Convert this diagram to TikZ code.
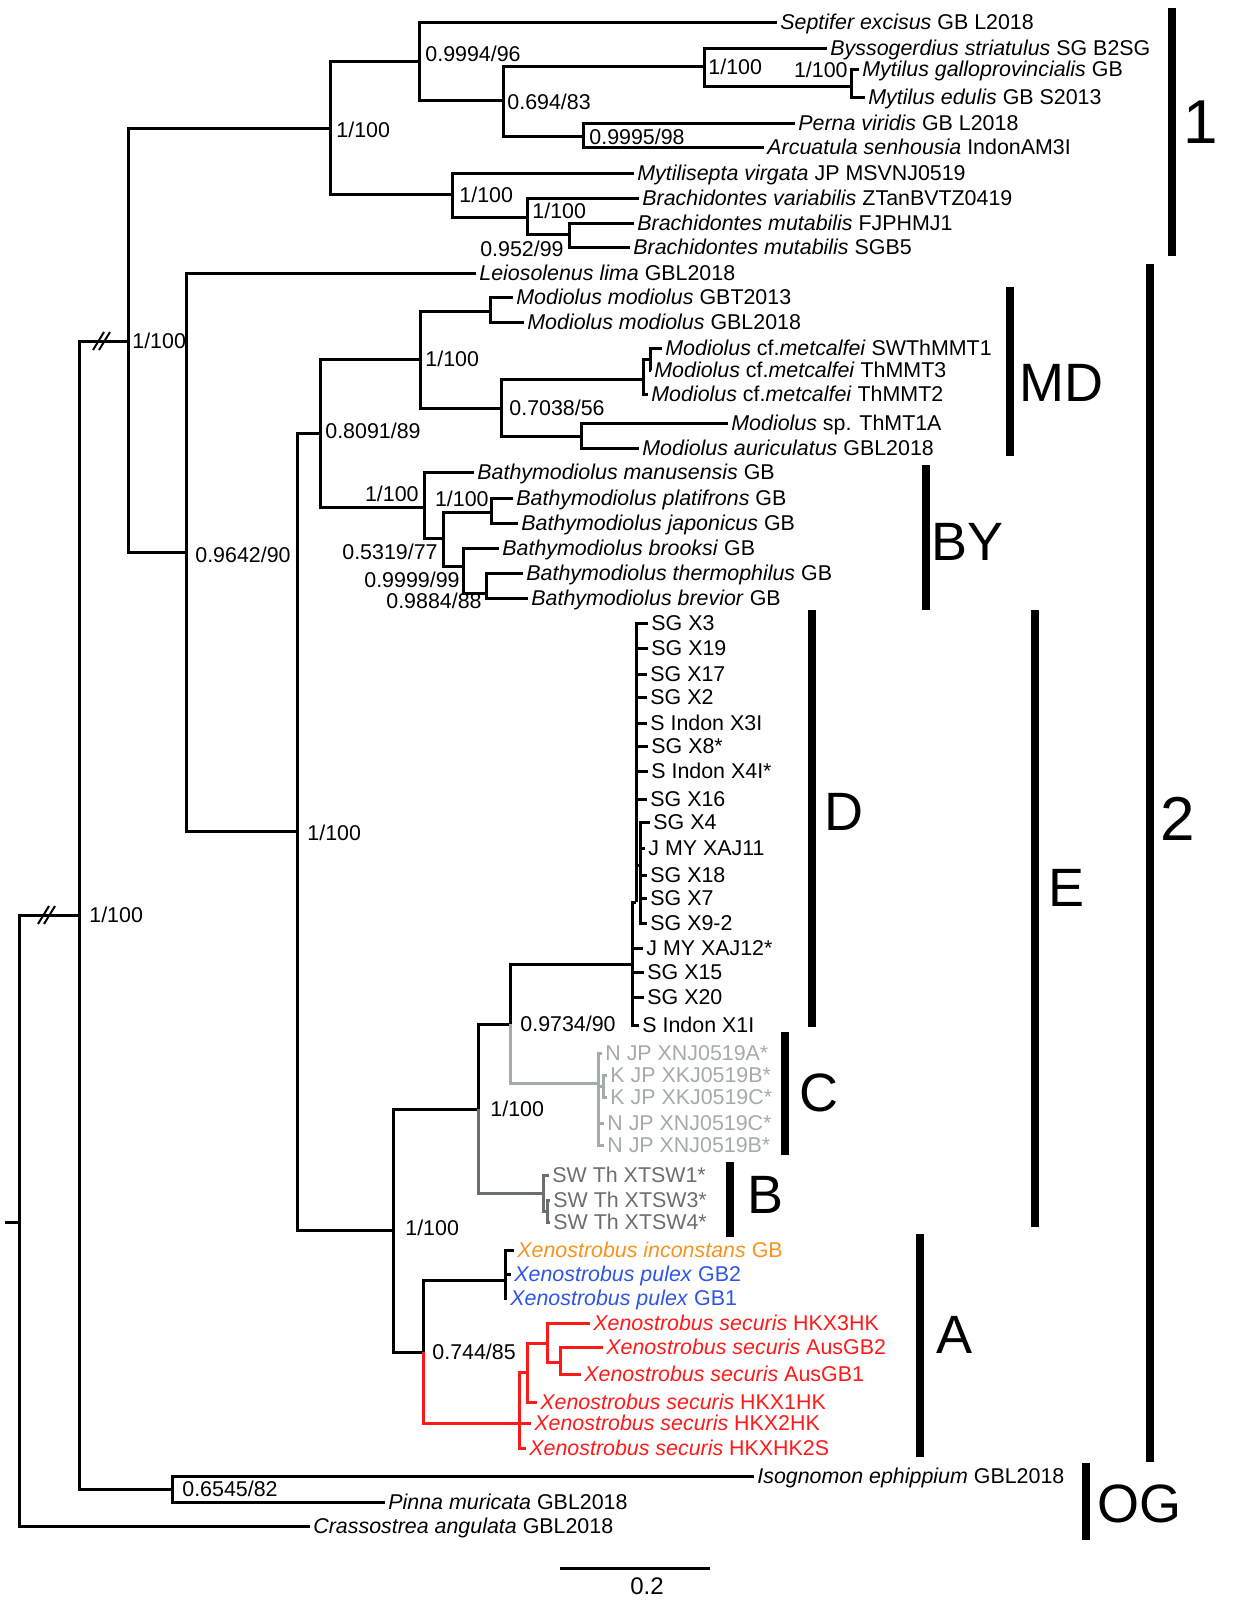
\documentclass[tikz,border=0pt]{standalone}
\usepackage{fontspec}
\setmainfont{Liberation Sans}
\usepackage{xcolor}
\usetikzlibrary{positioning}
\definecolor{naranja}{HTML}{F7931E}
\definecolor{azul}{HTML}{2F55E6}
\definecolor{rojo}{HTML}{FF1A1A}
\definecolor{grisc}{HTML}{A3ABAB}
\definecolor{grisb}{HTML}{6A6E6E}

\begin{document}
\begin{tikzpicture}[
  x=0.5pt, y=-0.5pt,
  font=\fontsize{10.7}{12}\selectfont,
  rama/.style={line width=1.5pt},
  hoja/.style={anchor=west, inner xsep=1.5pt, inner ysep=0pt, text height=7.7pt, text depth=0pt},
  apoyo/.style={anchor=west, inner sep=0pt, text height=7.7pt, text depth=0pt},
  apoyoizq/.style={apoyo, anchor=east},
  barra/.style={line width=3.6pt},
  clado/.style={anchor=west, inner sep=0pt, font=\fontsize{27}{30}\selectfont, text height=19.4pt, text depth=0pt},
  cladog/.style={clado, font=\fontsize{31}{34}\selectfont, text height=22.3pt},
  corte/.style={line width=1pt}
]
  \useasboundingbox (0,0) rectangle (1234,1603);

  % nodos internos
  \coordinate (base) at (5,1222);
  \coordinate (r0) at (19,1222);
  \coordinate (r1) at (79,915);
  \coordinate (g0) at (128,341);
  \coordinate (g1) at (330,128);
  \coordinate (g2) at (419,61);
  \coordinate (g3) at (503,100);
  \coordinate (g4) at (704,66);
  \coordinate (g5) at (851,86);
  \coordinate (g6) at (583,136);
  \coordinate (g7) at (452,194);
  \coordinate (g8) at (527,217);
  \coordinate (g9) at (569,234);
  \coordinate (m0) at (186,552);
  \coordinate (m1) at (297,831);
  \coordinate (m2) at (320,433);
  \coordinate (md0) at (420,359);
  \coordinate (md1) at (490,311);
  \coordinate (md2) at (501,408);
  \coordinate (md3) at (643,379);
  \coordinate (md4) at (650,359);
  \coordinate (md5) at (581,436);
  \coordinate (by0) at (424,507);
  \coordinate (by1) at (443,538);
  \coordinate (by2) at (491,512);
  \coordinate (by3) at (463,566);
  \coordinate (by4) at (486,593);
  \coordinate (x0) at (393,1230);
  \coordinate (x1) at (478,1109);
  \coordinate (x2) at (510,1024);
  \coordinate (d0) at (632,964);
  \coordinate (d1) at (636,902);
  \coordinate (d2) at (640,865);
  \coordinate (c0) at (598,1083);
  \coordinate (c1) at (603,1086);
  \coordinate (b0) at (543,1193);
  \coordinate (b1) at (547,1211);
  \coordinate (a0) at (423,1352);
  \coordinate (a1) at (505,1280);
  \coordinate (a2) at (519,1423);
  \coordinate (a3) at (527,1372);
  \coordinate (a4) at (547,1343);
  \coordinate (a5) at (560,1362);
  \coordinate (og) at (172,1489);

  % hojas
  \node[hoja] (sept) at (777,22) {\textit{Septifer excisus} GB L2018};
  \node[hoja] (byss) at (827,48) {\textit{Byssogerdius striatulus} SG B2SG};
  \node[hoja] (mgal) at (859,69) {\textit{Mytilus galloprovincialis} GB};
  \node[hoja] (medu) at (865,97) {\textit{Mytilus edulis} GB S2013};
  \node[hoja] (pvir) at (795,123) {\textit{Perna viridis} GB L2018};
  \node[hoja] (asen) at (764,147) {\textit{Arcuatula senhousia} IndonAM3I};
  \node[hoja] (mvir) at (634,173) {\textit{Mytilisepta virgata} JP MSVNJ0519};
  \node[hoja] (bvar) at (639,198) {\textit{Brachidontes variabilis} ZTanBVTZ0419};
  \node[hoja] (bmu1) at (634,223) {\textit{Brachidontes mutabilis} FJPHMJ1};
  \node[hoja] (bmu2) at (630,247) {\textit{Brachidontes mutabilis} SGB5};
  \node[hoja] (llim) at (476,273) {\textit{Leiosolenus lima} GBL2018};
  \node[hoja] (mmo1) at (513,297) {\textit{Modiolus modiolus} GBT2013};
  \node[hoja] (mmo2) at (524,322) {\textit{Modiolus modiolus} GBL2018};
  \node[hoja] (mme1) at (662,348) {\textit{Modiolus} cf.\textit{metcalfei} SWThMMT1};
  \node[hoja] (mme3) at (651,370) {\textit{Modiolus} cf.\textit{metcalfei} ThMMT3};
  \node[hoja] (mme2) at (648,394) {\textit{Modiolus} cf.\textit{metcalfei} ThMMT2};
  \node[hoja] (msp) at (728,423) {\textit{Modiolus} sp. ThMT1A};
  \node[hoja] (maur) at (639,448) {\textit{Modiolus auriculatus} GBL2018};
  \node[hoja] (bman) at (474,472) {\textit{Bathymodiolus manusensis} GB};
  \node[hoja] (bpla) at (513,498) {\textit{Bathymodiolus platifrons} GB};
  \node[hoja] (bjap) at (518,523) {\textit{Bathymodiolus japonicus} GB};
  \node[hoja] (bbro) at (499,548) {\textit{Bathymodiolus brooksi} GB};
  \node[hoja] (bthe) at (523,573) {\textit{Bathymodiolus thermophilus} GB};
  \node[hoja] (bbre) at (528,598) {\textit{Bathymodiolus brevior} GB};

  \node[hoja] (sgx3) at (648,623) {SG X3};
  \node[hoja] (sgx19) at (648,648) {SG X19};
  \node[hoja] (sgx17) at (647,674) {SG X17};
  \node[hoja] (sgx2) at (647,697) {SG X2};
  \node[hoja] (six3) at (647,723) {S Indon X3I};
  \node[hoja] (sgx8) at (648,746) {SG X8*};
  \node[hoja] (six4) at (648,771) {S Indon X4I*};
  \node[hoja] (sgx16) at (647,799) {SG X16};
  \node[hoja] (sgx4) at (650,822) {SG X4};
  \node[hoja] (jm11) at (645,848) {J MY XAJ11};
  \node[hoja] (sgx18) at (647,875) {SG X18};
  \node[hoja] (sgx7) at (647,898) {SG X7};
  \node[hoja] (sgx92) at (647,923) {SG X9-2};
  \node[hoja] (jm12) at (643,948) {J MY XAJ12*};
  \node[hoja] (sgx15) at (644,972) {SG X15};
  \node[hoja] (sgx20) at (644,997) {SG X20};
  \node[hoja] (six1) at (639,1025) {S Indon X1I};

  \node[hoja, grisc] (nja) at (602,1053) {N JP XNJ0519A*};
  \node[hoja, grisc] (kjb) at (607,1075) {K JP XKJ0519B*};
  \node[hoja, grisc] (kjc) at (607,1097) {K JP XKJ0519C*};
  \node[hoja, grisc] (njc) at (604,1123) {N JP XNJ0519C*};
  \node[hoja, grisc] (njb) at (604,1145) {N JP XNJ0519B*};

  \node[hoja, grisb] (sw1) at (549,1175) {SW Th XTSW1*};
  \node[hoja, grisb] (sw3) at (550,1200) {SW Th XTSW3*};
  \node[hoja, grisb] (sw4) at (550,1222) {SW Th XTSW4*};

  \node[hoja, naranja] (xinc) at (514,1250) {\textit{Xenostrobus inconstans} GB};
  \node[hoja, azul] (xpu2) at (511,1274) {\textit{Xenostrobus pulex} GB2};
  \node[hoja, azul] (xpu1) at (507,1298) {\textit{Xenostrobus pulex} GB1};
  \node[hoja, rojo] (hk3) at (590,1323) {\textit{Xenostrobus securis} HKX3HK};
  \node[hoja, rojo] (aus2) at (603,1347) {\textit{Xenostrobus securis} AusGB2};
  \node[hoja, rojo] (aus1) at (581,1374) {\textit{Xenostrobus securis} AusGB1};
  \node[hoja, rojo] (hk1) at (537,1402) {\textit{Xenostrobus securis} HKX1HK};
  \node[hoja, rojo] (hk2) at (531,1423) {\textit{Xenostrobus securis} HKX2HK};
  \node[hoja, rojo] (hks) at (526,1448) {\textit{Xenostrobus securis} HKXHK2S};

  \node[hoja] (ieph) at (754,1476) {\textit{Isognomon ephippium} GBL2018};
  \node[hoja] (pmur) at (385,1502) {\textit{Pinna muricata} GBL2018};
  \node[hoja] (cang) at (310,1526) {\textit{Crassostrea angulata} GBL2018};

  % ramas
  \draw[rama] (base) -- (r0);
  \draw[rama] (r0) |- (r1) (r0) |- (cang);
  \draw[rama] (r1) |- (g0) (r1) |- (og);
  \draw[rama] (og) |- (ieph) (og) |- (pmur);
  \draw[rama] (g0) |- (g1) (g0) |- (m0);
  \draw[rama] (g1) |- (g2) (g1) |- (g7);
  \draw[rama] (g2) |- (sept) (g2) |- (g3);
  \draw[rama] (g3) |- (g4) (g3) |- (g6);
  \draw[rama] (g4) |- (byss) (g4) |- (g5);
  \draw[rama] (g5) |- (mgal) (g5) |- (medu);
  \draw[rama] (g6) |- (pvir) (g6) |- (asen);
  \draw[rama] (g7) |- (mvir) (g7) |- (g8);
  \draw[rama] (g8) |- (bvar) (g8) |- (g9);
  \draw[rama] (g9) |- (bmu1) (g9) |- (bmu2);
  \draw[rama] (m0) |- (llim) (m0) |- (m1);
  \draw[rama] (m1) |- (m2) (m1) |- (x0);
  \draw[rama] (m2) |- (md0) (m2) |- (by0);
  \draw[rama] (md0) |- (md1) (md0) |- (md2);
  \draw[rama] (md1) |- (mmo1) (md1) |- (mmo2);
  \draw[rama] (md2) |- (md3) (md2) |- (md5);
  \draw[rama] (md3) |- (md4) (md3) |- (mme2);
  \draw[rama] (md4) |- (mme1) (md4) |- (mme3);
  \draw[rama] (md5) |- (msp) (md5) |- (maur);
  \draw[rama] (by0) |- (bman) (by0) |- (by1);
  \draw[rama] (by1) |- (by2) (by1) |- (by3);
  \draw[rama] (by2) |- (bpla) (by2) |- (bjap);
  \draw[rama] (by3) |- (bbro) (by3) |- (by4);
  \draw[rama] (by4) |- (bthe) (by4) |- (bbre);
  \draw[rama] (x0) |- (x1) (x0) |- (a0);
  \draw[rama] (x1) |- (x2);
  \draw[rama, grisb] (x1) |- (b0);
  \draw[rama] (x2) |- (d0);
  \draw[rama, grisc] (x2) |- (c0);
  \draw[rama] (d0) |- (d1) (d0) |- (jm12) (d0) |- (sgx15) (d0) |- (sgx20) (d0) |- (six1);
  \draw[rama] (d1) |- (sgx3) (d1) |- (sgx19) (d1) |- (sgx17) (d1) |- (sgx2)
    (d1) |- (six3) (d1) |- (sgx8) (d1) |- (six4) (d1) |- (sgx16) (d1) |- (d2);
  \draw[rama] (d2) |- (sgx4) (d2) |- (jm11) (d2) |- (sgx18) (d2) |- (sgx7) (d2) |- (sgx92);
  \draw[rama, grisc] (c0) |- (nja) (c0) |- (c1) (c0) |- (njc) (c0) |- (njb);
  \draw[rama, grisc] (c1) |- (kjb) (c1) |- (kjc);
  \draw[rama, grisb] (b0) |- (sw1) (b0) |- (b1);
  \draw[rama, grisb] (b1) |- (sw3) (b1) |- (sw4);
  \draw[rama] (a0) |- (a1);
  \draw[rama, rojo] (a0) |- (a2);
  \draw[rama] (a1) |- (xinc) (a1) |- (xpu2) (a1) |- (xpu1);
  \draw[rama, rojo] (a2) |- (a3) (a2) |- (hk2) (a2) |- (hks);
  \draw[rama, rojo] (a3) |- (a4) (a3) |- (hk1);
  \draw[rama, rojo] (a4) |- (hk3) (a4) |- (a5);
  \draw[rama, rojo] (a5) |- (aus2) (a5) |- (aus1);

  % cortes
  \coordinate (k1) at (46,915);
  \coordinate (k2) at (101,341);
  \draw[corte] ([shift={(-8,9)}]k1) -- ([shift={(3,-9)}]k1)
    ([shift={(-2,9)}]k1) -- ([shift={(9,-9)}]k1);
  \draw[corte] ([shift={(-8,9)}]k2) -- ([shift={(3,-9)}]k2)
    ([shift={(-2,9)}]k2) -- ([shift={(9,-9)}]k2);

  % apoyos
  \node[apoyo] (s1) at (89,915) {1/100};
  \node[apoyo] (s2) at (132,341) {1/100};
  \node[apoyo] (s3) at (336,130) {1/100};
  \node[apoyo] (s4) at (425,54) {0.9994/96};
  \node[apoyo] (s5) at (459,195) {1/100};
  \node[apoyo] (s6) at (507,102) {0.694/83};
  \node[apoyo] (s7) at (708,67) {1/100};
  \node[apoyo] (s8) at (589,137) {0.9995/98};
  \node[apoyoizq] (s9) at (848,70) {1/100};
  \node[apoyo] (s10) at (532,211) {1/100};
  \node[apoyoizq] (s11) at (564,249) {0.952/99};
  \node[apoyo] (s12) at (195,555) {0.9642/90};
  \node[apoyo] (s13) at (307,833) {1/100};
  \node[apoyo] (s14) at (325,431) {0.8091/89};
  \node[apoyo] (s15) at (425,359) {1/100};
  \node[apoyoizq] (s16) at (419,494) {1/100};
  \node[apoyo] (s17) at (509,408) {0.7038/56};
  \node[apoyoizq] (s18) at (438,552) {0.5319/77};
  \node[apoyoizq] (s19) at (489,499) {1/100};
  \node[apoyoizq] (s20) at (460,580) {0.9999/99};
  \node[apoyoizq] (s21) at (482,601) {0.9884/88};
  \node[apoyo] (s22) at (520,1024) {0.9734/90};
  \node[apoyo] (s23) at (490,1109) {1/100};
  \node[apoyo] (s24) at (405,1228) {1/100};
  \node[apoyo] (s25) at (432,1352) {0.744/85};
  \node[apoyo] (s26) at (182,1489) {0.6545/82};

  % barras de clados
  \draw[barra] (1172,8) -- (1172,256);
  \draw[barra] (1150,264) -- (1150,1462);
  \draw[barra] (1010,287) -- (1010,456);
  \draw[barra] (926,465) -- (926,610);
  \draw[barra] (812,610) -- (812,1027);
  \draw[barra] (1035,610) -- (1035,1227);
  \draw[barra] (785,1032) -- (785,1155);
  \draw[barra] (730,1162) -- (730,1237);
  \draw[barra] (920,1234) -- (920,1457);
  \draw[barra] (1086,1463) -- (1086,1540);
  \node[cladog] (l1) at (1183,121) {1};
  \node[cladog] (l2) at (1160,818) {2};
  \node[clado] (lmd) at (1019,382) {MD};
  \node[clado] (lby) at (931,541) {BY};
  \node[clado] (ld) at (824,811) {D};
  \node[clado] (le) at (1048,887) {E};
  \node[clado] (lc) at (799,1092) {C};
  \node[clado] (lb) at (747,1194) {B};
  \node[clado] (la) at (936,1334) {A};
  \node[clado] (log) at (1097,1503) {OG};

  % escala
  \draw[rama] (560,1568) -- (710,1568);
  \node[apoyo, anchor=center, font=\fontsize{12}{14}\selectfont, text height=8.6pt] (esc) at (647,1586) {0.2};
\end{tikzpicture}
\end{document}
